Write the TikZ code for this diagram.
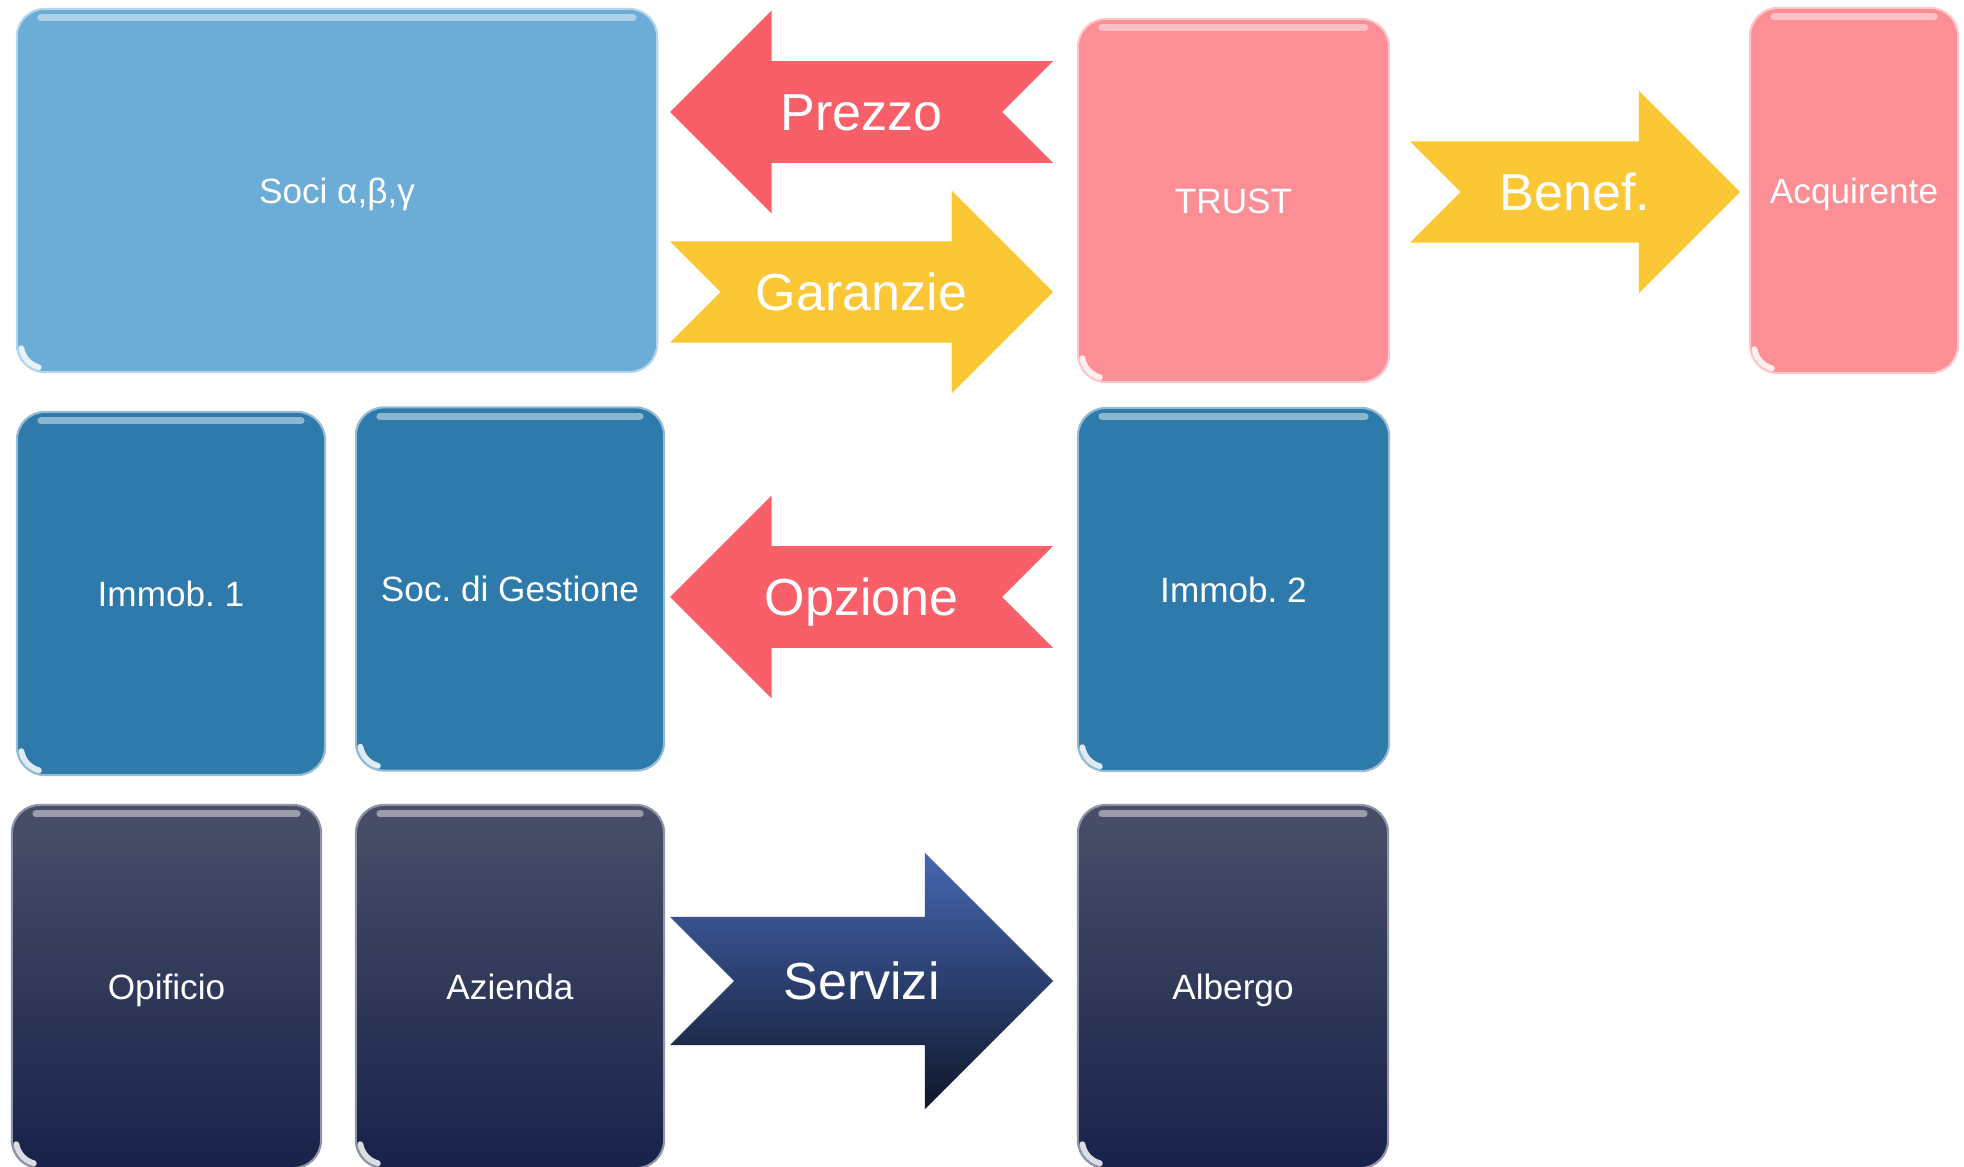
\documentclass[tikz,border=0pt]{standalone}
\usepackage{fontspec}
\setmainfont{Liberation Sans}
\usetikzlibrary{positioning, calc}
\frenchspacing

\definecolor{socicol}{HTML}{6BADD6}
\definecolor{trustcol}{HTML}{FC8F96}
\definecolor{immobcol}{HTML}{2D7AAB}
\definecolor{darktop}{HTML}{4A4F68}
\definecolor{darkmid}{HTML}{1E2A52}
\definecolor{darkbot}{HTML}{18224A}
\definecolor{redarrow}{HTML}{F95F68}
\definecolor{yellowarrow}{HTML}{FCC734}
\definecolor{bluetop}{HTML}{4767B2}
\definecolor{bluebot}{HTML}{0F162A}

% notched block arrow: #1 options, #2 tail, #3 tip, #4 half width of the head
\newcommand{\notched}[4]{%
  \path[#1] let \p1=(#2), \p2=(#3), \n1={sign(\x2-\x1)} in
    ({\x1},{\y1+#4/2}) -- ({\x2-(\n1)*#4},{\y1+#4/2}) -- ({\x2-(\n1)*#4},{\y1+#4})
    -- ({\x2},{\y1}) -- ({\x2-(\n1)*#4},{\y1-#4}) -- ({\x2-(\n1)*#4},{\y1-#4/2})
    -- ({\x1},{\y1-#4/2}) -- ({\x1+(\n1)*#4/2},{\y1}) -- cycle;}

\begin{document}
\begin{tikzpicture}[x=0.01cm, y=-0.01cm,
    box/.style={rectangle, rounded corners=2.8mm, fill=#1, draw=#1!50!white,
      line width=0.6pt, inner sep=0pt, text=white,
      font=\fontsize{10}{12}\selectfont, text height=7.2pt, text depth=0pt,
      minimum width=3.08cm, minimum height=3.63cm,
      path picture={
        \draw[white, opacity=.45, line width=0.7mm, line cap=round]
          ([xshift=2.4mm,yshift=-0.9mm]path picture bounding box.north west) --
          ([xshift=-2.4mm,yshift=-0.9mm]path picture bounding box.north east);
        \draw[white, opacity=.85, line width=0.6mm, line cap=round]
          ([xshift=0.44mm,yshift=2.38mm]path picture bounding box.south west)
          arc[start angle=190, end angle=255, radius=2.4mm];}},
    darkbox/.style={box=darkmid, top color=darktop, middle color=darkmid,
      bottom color=darkbot},
    label/.style={text=white, font=\fontsize{14.8}{17}\selectfont,
      text height=10.6pt, text depth=0pt, inner sep=0pt}
  ]
  \useasboundingbox (0,0) rectangle (1964,1167);

  % first row
  \node[box=socicol, minimum width=6.4cm] (soci) at (337,190.5) {Soci α,β,γ};
  \node[box=trustcol, minimum width=3.11cm] (trust) at (1233.5,200.5) {TRUST};
  \node[box=trustcol, minimum width=2.08cm, minimum height=3.65cm]
    (acquirente) at (1854,190.5) {Acquirente};

  % second row
  \node[box=immobcol] (immob1) at (171,593.5) {Immob. 1};
  \node[box=immobcol] (gestione) at (510,589) {Soc. di Gestione};
  \node[box=immobcol, minimum width=3.11cm] (immob2) at (1233.5,589.5) {Immob. 2};

  % third row
  \node[darkbox, minimum width=3.09cm] (opificio) at (166.5,986.5) {Opificio};
  \node[darkbox] (azienda) at (510,986.5) {Azienda};
  \node[darkbox, minimum width=3.1cm] (albergo) at (1233,986.5) {Albergo};

  % arrow ends
  \coordinate (prezzo tail) at (1053,112);
  \coordinate (prezzo tip) at (670,112);
  \coordinate (garanzie tail) at (670,292);
  \coordinate (garanzie tip) at (1053,292);
  \coordinate (benef tail) at (1410,192);
  \coordinate (benef tip) at (1740,192);
  \coordinate (opzione tail) at (1053,597);
  \coordinate (opzione tip) at (670,597);
  \coordinate (servizi tail) at (670,981);
  \coordinate (servizi tip) at (1053,981);

  \notched{fill=redarrow}{prezzo tail}{prezzo tip}{1.015cm}
  \notched{fill=yellowarrow}{garanzie tail}{garanzie tip}{1.01cm}
  \notched{fill=yellowarrow}{benef tail}{benef tip}{1.01cm}
  \notched{fill=redarrow}{opzione tail}{opzione tip}{1.015cm}
  \notched{top color=bluetop, bottom color=bluebot}{servizi tail}{servizi tip}{1.28cm}

  \node[label] (prezzo) at ($(prezzo tail)!0.5!(prezzo tip)$) {Prezzo};
  \node[label] (garanzie) at ($(garanzie tail)!0.5!(garanzie tip)$) {Garanzie};
  \node[label] (benef) at ($(benef tail)!0.5!(benef tip)$) {Benef.};
  \node[label] (opzione) at ($(opzione tail)!0.5!(opzione tip)$) {Opzione};
  \node[label] (servizi) at ($(servizi tail)!0.5!(servizi tip)$) {Servizi};
\end{tikzpicture}
\end{document}
